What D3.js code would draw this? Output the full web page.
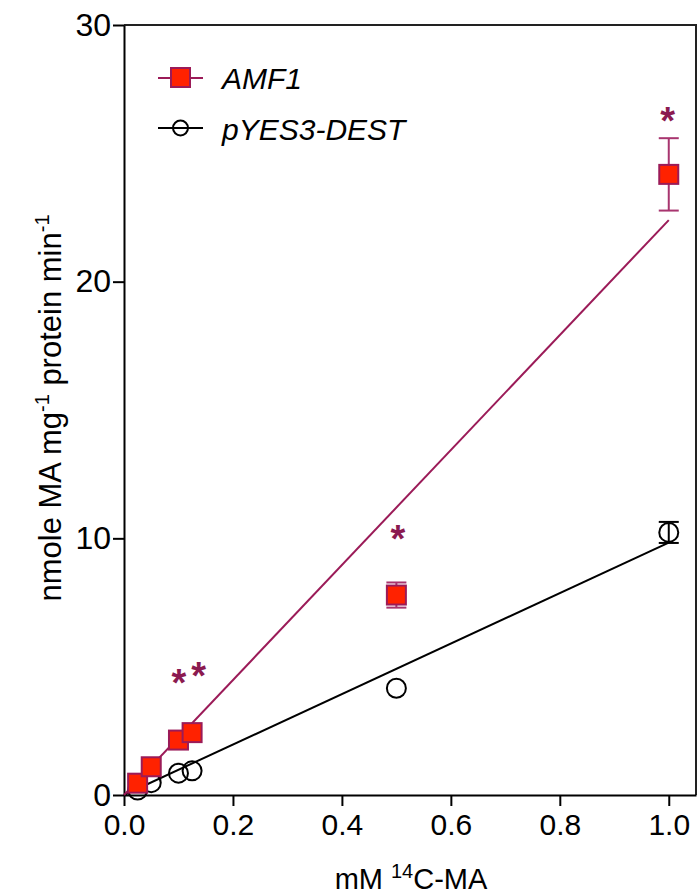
<!DOCTYPE html>
<html>
<head>
<meta charset="utf-8">
<script src="https://cdn.jsdelivr.net/npm/d3@7"></script>
<style>
  body { margin: 0; background: #fff; }
  svg { display: block; font-family: "Liberation Sans", Arial, sans-serif; }
</style>
</head>
<body>
<svg id="chart" width="697" height="894"></svg>
<script>
// substrate concentration (mM 14C-MA)
var concentrations = [0.025, 0.05, 0.1, 0.125, 0.5, 1.0];
var amf1Values = [0.46, 1.10, 2.14, 2.43, 7.79, 24.18];
var amf1Errors = [0, 0, 0, 0, 0.49, 1.41];
var emptyValues = [0.19, 0.48, 0.85, 0.94, 4.16, 10.23];
var emptyErrors = [0, 0, 0, 0, 0, 0.41];
// linear fits (end points)
var amf1Fit = [[0, 0], [1.0, 22.40]];
var emptyFit = [[0, 0], [1.0, 9.83]];
// significance marks
var starX = [0.101, 0.137, 0.503, 0.998];
var starY = [4.68, 4.94, 10.30, 26.56];
var xTicks = [0, 0.2, 0.4, 0.6, 0.8, 1.0];
var yTicks = [0, 10, 20, 30];
var seriesNames = ['AMF1', 'pYES3-DEST'];

var purple = '#9b1b58',
    red = '#ff2200';

var svg = d3.select('#chart');
var margin = {left: 124, top: 25, right: 1, bottom: 99};
var width = 697 - margin.left - margin.right,
    height = 894 - margin.top - margin.bottom;

var x = d3.scaleLinear().domain([0, 1.05]).range([margin.left, margin.left + width]);
var y = d3.scaleLinear().domain([0, 30]).range([margin.top + height, margin.top]);

// frame
svg.append('path')
  .attr('d', 'M' + x(0) + ',' + y(30) + 'H' + x(1.05) + 'V' + y(0))
  .attr('fill', 'none').attr('stroke', '#222').attr('stroke-width', 2);

var xAxis = d3.axisBottom(x).tickValues(xTicks).tickSize(11).tickSizeOuter(0)
  .tickFormat(d3.format('.1f')).tickPadding(8);
var yAxis = d3.axisLeft(y).tickValues(yTicks).tickSize(11).tickSizeOuter(0).tickPadding(2);

svg.append('g').attr('class', 'x axis')
  .attr('transform', 'translate(0,' + y(0) + ')')
  .call(xAxis)
  .call(function (g) {
    g.selectAll('path, line').attr('stroke', '#000').attr('stroke-width', 2);
    g.selectAll('text').attr('fill', '#000').style('font-size', '30px');
  });

svg.append('g').attr('class', 'y axis')
  .attr('transform', 'translate(' + x(0) + ',0)')
  .call(yAxis)
  .call(function (g) {
    g.selectAll('path, line').attr('stroke', '#000').attr('stroke-width', 2);
    g.selectAll('text').attr('fill', '#000').style('font-size', '32px');
  });

// axis titles
var xt = svg.append('text').attr('x', 411).attr('y', 889)
  .attr('text-anchor', 'middle').style('font-size', '29px');
xt.append('tspan').text('mM ');
xt.append('tspan').attr('dy', -11).style('font-size', '20px').text('14');
xt.append('tspan').attr('dy', 11).text('C-MA');

var yt = svg.append('text').attr('transform', 'translate(61,408) rotate(-90)')
  .attr('text-anchor', 'middle').style('font-size', '31px');
yt.append('tspan').text('nmole MA mg');
yt.append('tspan').attr('dy', -12).style('font-size', '20px').text('-1');
yt.append('tspan').attr('dy', 12).text(' protein min');
yt.append('tspan').attr('dy', -12).style('font-size', '20px').text('-1');

// fitted lines
var line = d3.line().x(function (d) { return x(d[0]); }).y(function (d) { return y(d[1]); });
svg.append('path').datum(emptyFit).attr('d', line)
  .attr('fill', 'none').attr('stroke', '#000').attr('stroke-width', 2);
svg.append('path').datum(amf1Fit).attr('d', line)
  .attr('fill', 'none').attr('stroke', purple).attr('stroke-width', 2);

function errorBars(vals, errs, color) {
  var g = svg.append('g').attr('stroke', color).attr('stroke-width', 2);
  concentrations.forEach(function (c, i) {
    if (!errs[i]) return;
    var cx = x(c), top = y(vals[i] + errs[i]), bot = y(vals[i] - errs[i]);
    g.append('line').attr('x1', cx).attr('x2', cx).attr('y1', top).attr('y2', bot);
    g.append('line').attr('x1', cx - 10).attr('x2', cx + 10).attr('y1', top).attr('y2', top);
    g.append('line').attr('x1', cx - 10).attr('x2', cx + 10).attr('y1', bot).attr('y2', bot);
  });
}

errorBars(emptyValues, emptyErrors, '#000');
svg.append('g').selectAll('circle')
  .data(concentrations).enter().append('circle')
  .attr('cx', function (d) { return x(d); })
  .attr('cy', function (d, i) { return y(emptyValues[i]); })
  .attr('r', 9.5)
  .attr('fill', 'none').attr('stroke', '#000').attr('stroke-width', 2);

errorBars(amf1Values, amf1Errors, '#a8356f');
svg.append('g').selectAll('rect')
  .data(concentrations).enter().append('rect')
  .attr('x', function (d) { return x(d) - 9.5; })
  .attr('y', function (d, i) { return y(amf1Values[i]) - 9.5; })
  .attr('width', 19).attr('height', 19)
  .attr('fill', red).attr('stroke', purple).attr('stroke-width', 2);

// asterisks
svg.append('g').selectAll('text')
  .data(starX).enter().append('text')
  .attr('x', function (d) { return x(d); })
  .attr('y', function (d, i) { return y(starY[i]) + 21; })
  .attr('text-anchor', 'middle')
  .attr('fill', '#8b1a50')
  .style('font-size', '38px').style('font-weight', 'bold')
  .text('*');

// legend
var legend = svg.append('g');
legend.append('line').attr('x1', 158).attr('x2', 203).attr('y1', 78).attr('y2', 78)
  .attr('stroke', purple).attr('stroke-width', 2);
legend.append('rect').attr('x', 171).attr('y', 68).attr('width', 19).attr('height', 19)
  .attr('fill', red).attr('stroke', purple).attr('stroke-width', 2);
legend.append('line').attr('x1', 158).attr('x2', 203).attr('y1', 128).attr('y2', 128)
  .attr('stroke', '#000').attr('stroke-width', 2);
legend.append('circle').attr('cx', 180.5).attr('cy', 128).attr('r', 7.5)
  .attr('fill', 'none').attr('stroke', '#000').attr('stroke-width', 2);
legend.selectAll('text').data(seriesNames).enter().append('text')
  .attr('x', 222)
  .attr('y', function (d, i) { return 89 + i * 51; })
  .style('font-size', '30px').style('font-style', 'italic')
  .text(function (d) { return d; });
</script>
</body>
</html>
